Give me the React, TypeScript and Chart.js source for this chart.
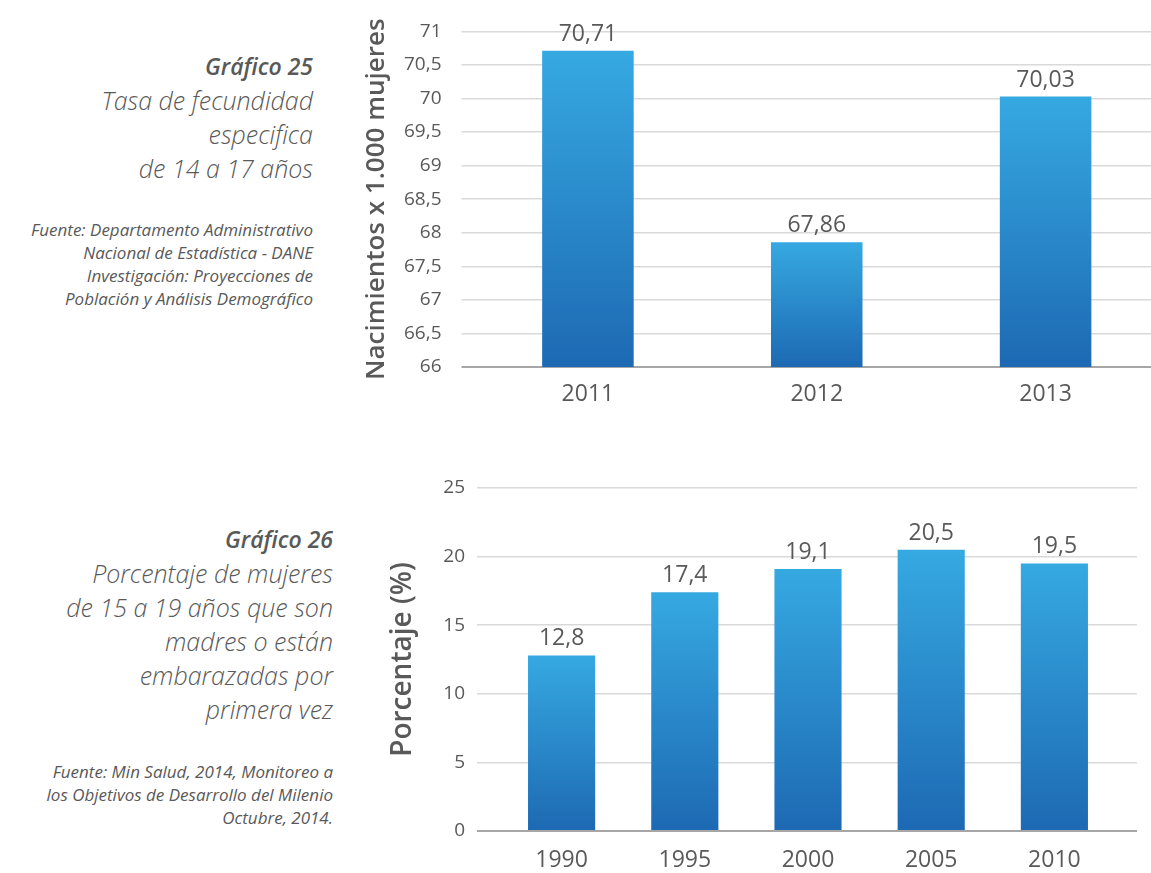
import React, { useEffect, useRef } from 'react';
import { Chart, registerables } from 'chart.js';

Chart.register(...registerables);

// ---------- data ----------
const years1 = ['2011', '2012', '2013'];
const rates1 = [70.71, 67.86, 70.03];
const yMin1 = 66;
const yMax1 = 71;
const yStep1 = 0.5;
const axisTitle1 = 'Nacimientos x 1.000 mujeres';
const heading1 = 'Gráfico 25';
const caption1 = ['Tasa de fecundidad', 'especifica', 'de 14 a 17 años'];
const source1 = [
  'Fuente: Departamento Administrativo',
  'Nacional de Estadística - DANE',
  'Investigación: Proyecciones de',
  'Población y Análisis Demográfico',
];

const years2 = ['1990', '1995', '2000', '2005', '2010'];
const pct2 = [12.8, 17.4, 19.1, 20.5, 19.5];
const yMin2 = 0;
const yMax2 = 25;
const yStep2 = 5;
const axisTitle2 = 'Porcentaje (%)';
const heading2 = 'Gráfico 26';
const caption2 = ['Porcentaje de mujeres', 'de 15 a 19 años que son', 'madres o están', 'embarazadas por', 'primera vez'];
const source2 = [
  'Fuente: Min Salud, 2014, Monitoreo a',
  'los Objetivos de Desarrollo del Milenio',
  'Octubre, 2014.',
];

// ---------- styles ----------
const FONT = '"Open Sans", "Liberation Sans", sans-serif';
const TEXT = '#595959';
const GRID = '#d9d9d9';
const AXIS = '#a6a6a6';
const BAR_TOP = '#36a9e1';
const BAR_BOTTOM = '#1d69b3';

Chart.defaults.font.family = FONT;
Chart.defaults.color = TEXT;

const valueLabels = {
  id: 'valueLabels',
  afterDatasetsDraw(chart: any, _args: any, opts: any) {
    const { ctx } = chart;
    const meta = chart.getDatasetMeta(0);
    const data = chart.data.datasets[0].data as number[];
    ctx.save();
    ctx.font = `${opts.size}px ${FONT}`;
    ctx.fillStyle = TEXT;
    ctx.textAlign = 'center';
    ctx.textBaseline = 'alphabetic';
    meta.data.forEach((bar: any, i: number) => {
      const txt = data[i].toFixed(opts.decimals).replace('.', ',');
      ctx.fillText(txt, bar.x, bar.y - opts.offset);
    });
    ctx.restore();
  },
};

type Cfg = {
  labels: string[];
  values: number[];
  decimals: number;
  min: number;
  max: number;
  step: number;
  title: string;
  titleSize: number;
  width: number;
  height: number;
  yWidth: number;
  tickLen: number;
  tickPad: number;
  rightExt: number;
  pad: { top: number; right: number; bottom: number; left: number };
  barPct: number;
  xPad: number;
};

function gridColor(min: number) {
  return (c: any) => (c.tick && Math.abs(c.tick.value - min) < 1e-9 ? AXIS : GRID);
}
function gridWidth(min: number) {
  return (c: any) => (c.tick && Math.abs(c.tick.value - min) < 1e-9 ? 2 : 1.5);
}

function BarChart({ cfg, left, top }: { cfg: Cfg; left: number; top: number }) {
  const ref = useRef<HTMLCanvasElement>(null);
  useEffect(() => {
    if (!ref.current) return;
    const scales: any = {
      x: {
        grid: { display: false, drawTicks: false },
        border: { display: false },
        ticks: { padding: cfg.xPad, color: TEXT, font: { size: 23 } },
        afterFit: (s: any) => {
          s.height = 40;
        },
      },
      y: {
        min: cfg.min,
        max: cfg.max,
        ticks: {
          stepSize: cfg.step,
          padding: cfg.tickPad,
          color: TEXT,
          font: { size: 19 },
          callback: (v: any) => String(Number(v)).replace('.', ','),
        },
        grid: {
          color: gridColor(cfg.min),
          lineWidth: gridWidth(cfg.min),
          tickLength: cfg.tickLen,
        },
        border: { display: false },
        title: {
          display: true,
          text: cfg.title,
          color: TEXT,
          font: { size: cfg.titleSize, weight: '600' },
          padding: 0,
        },
        afterFit: (s: any) => {
          s.width = cfg.yWidth;
        },
      },
    };
    if (cfg.rightExt > 0) {
      scales.y2 = {
        position: 'right',
        min: cfg.min,
        max: cfg.max,
        ticks: { display: false, stepSize: cfg.step },
        grid: {
          drawOnChartArea: false,
          color: gridColor(cfg.min),
          lineWidth: gridWidth(cfg.min),
          tickLength: cfg.rightExt,
        },
        border: { display: false },
        afterFit: (s: any) => {
          s.width = cfg.rightExt;
        },
      };
    }
    const chart = new Chart(ref.current, {
      type: 'bar',
      data: {
        labels: cfg.labels,
        datasets: [
          {
            data: cfg.values,
            barPercentage: cfg.barPct,
            categoryPercentage: 1,
            borderWidth: 0,
            backgroundColor: (c: any) => {
              const ch = c.chart;
              const ys = ch.scales && ch.scales.y;
              if (!ys || c.type !== 'data') return BAR_TOP;
              const t = ys.getPixelForValue(c.raw as number);
              const b = ys.getPixelForValue(ys.min);
              if (!isFinite(t) || !isFinite(b) || t === b) return BAR_TOP;
              const g = ch.ctx.createLinearGradient(0, t, 0, b);
              g.addColorStop(0, BAR_TOP);
              g.addColorStop(1, BAR_BOTTOM);
              return g;
            },
          },
        ],
      },
      options: {
        responsive: false,
        animation: false,
        layout: { padding: cfg.pad },
        plugins: {
          legend: { display: false },
          tooltip: { enabled: false },
          valueLabels: { size: 23, decimals: cfg.decimals, offset: 10 },
        } as any,
        scales,
      },
      plugins: [valueLabels],
    });
    return () => chart.destroy();
  }, []);
  return (
    <canvas
      ref={ref}
      width={cfg.width}
      height={cfg.height}
      style={{ position: 'absolute', left, top, width: cfg.width, height: cfg.height }}
    />
  );
}

function Caption({
  right,
  top,
  heading,
  lines,
  srcTop,
  src,
}: {
  right: number;
  top: number;
  heading: string;
  lines: string[];
  srcTop: number;
  src: string[];
}) {
  const base: React.CSSProperties = {
    position: 'absolute',
    right: 1151 - right,
    textAlign: 'right',
    whiteSpace: 'nowrap',
    fontFamily: FONT,
    fontStyle: 'italic',
    color: TEXT,
  };
  return (
    <>
      <div style={{ ...base, top, lineHeight: '34px' }}>
        <div style={{ fontWeight: 600, fontSize: 23 }}>{heading}</div>
        {lines.map((l) => (
          <div key={l} style={{ fontWeight: 300, fontSize: 25 }}>
            {l}
          </div>
        ))}
      </div>
      <div style={{ ...base, top: srcTop, lineHeight: '23px', fontSize: 17, fontWeight: 400 }}>
        {src.map((l) => (
          <div key={l}>{l}</div>
        ))}
      </div>
    </>
  );
}

const cfg1: Cfg = {
  labels: years1,
  values: rates1,
  decimals: 2,
  min: yMin1,
  max: yMax1,
  step: yStep1,
  title: axisTitle1,
  titleSize: 26,
  width: 809,
  height: 420,
  yWidth: 112.5,
  tickLen: 12,
  tickPad: 20,
  rightExt: 0,
  pad: { top: 23, right: 10, bottom: 13, left: 0 },
  barPct: 0.4,
  xPad: 14,
};

const cfg2: Cfg = {
  labels: years2,
  values: pct2,
  decimals: 1,
  min: yMin2,
  max: yMax2,
  step: yStep2,
  title: axisTitle2,
  titleSize: 28,
  width: 765,
  height: 433,
  yWidth: 114,
  tickLen: 23,
  tickPad: 12,
  rightExt: 21,
  pad: { top: 48, right: 14, bottom: 2, left: 0 },
  barPct: 0.545,
  xPad: 16,
};

export default function App() {
  return (
    <div
      style={{
        position: 'fixed',
        left: 0,
        top: 0,
        width: 1151,
        height: 873,
        overflow: 'hidden',
        background: '#ffffff',
      }}
    >
      <Caption right={313} top={49} heading={heading1} lines={caption1} srcTop={218} src={source1} />
      <Caption right={333} top={522} heading={heading2} lines={caption2} srcTop={760} src={source2} />
      <BarChart cfg={cfg1} left={361} top={0} />
      <BarChart cfg={cfg2} left={386} top={440} />
    </div>
  );
}
